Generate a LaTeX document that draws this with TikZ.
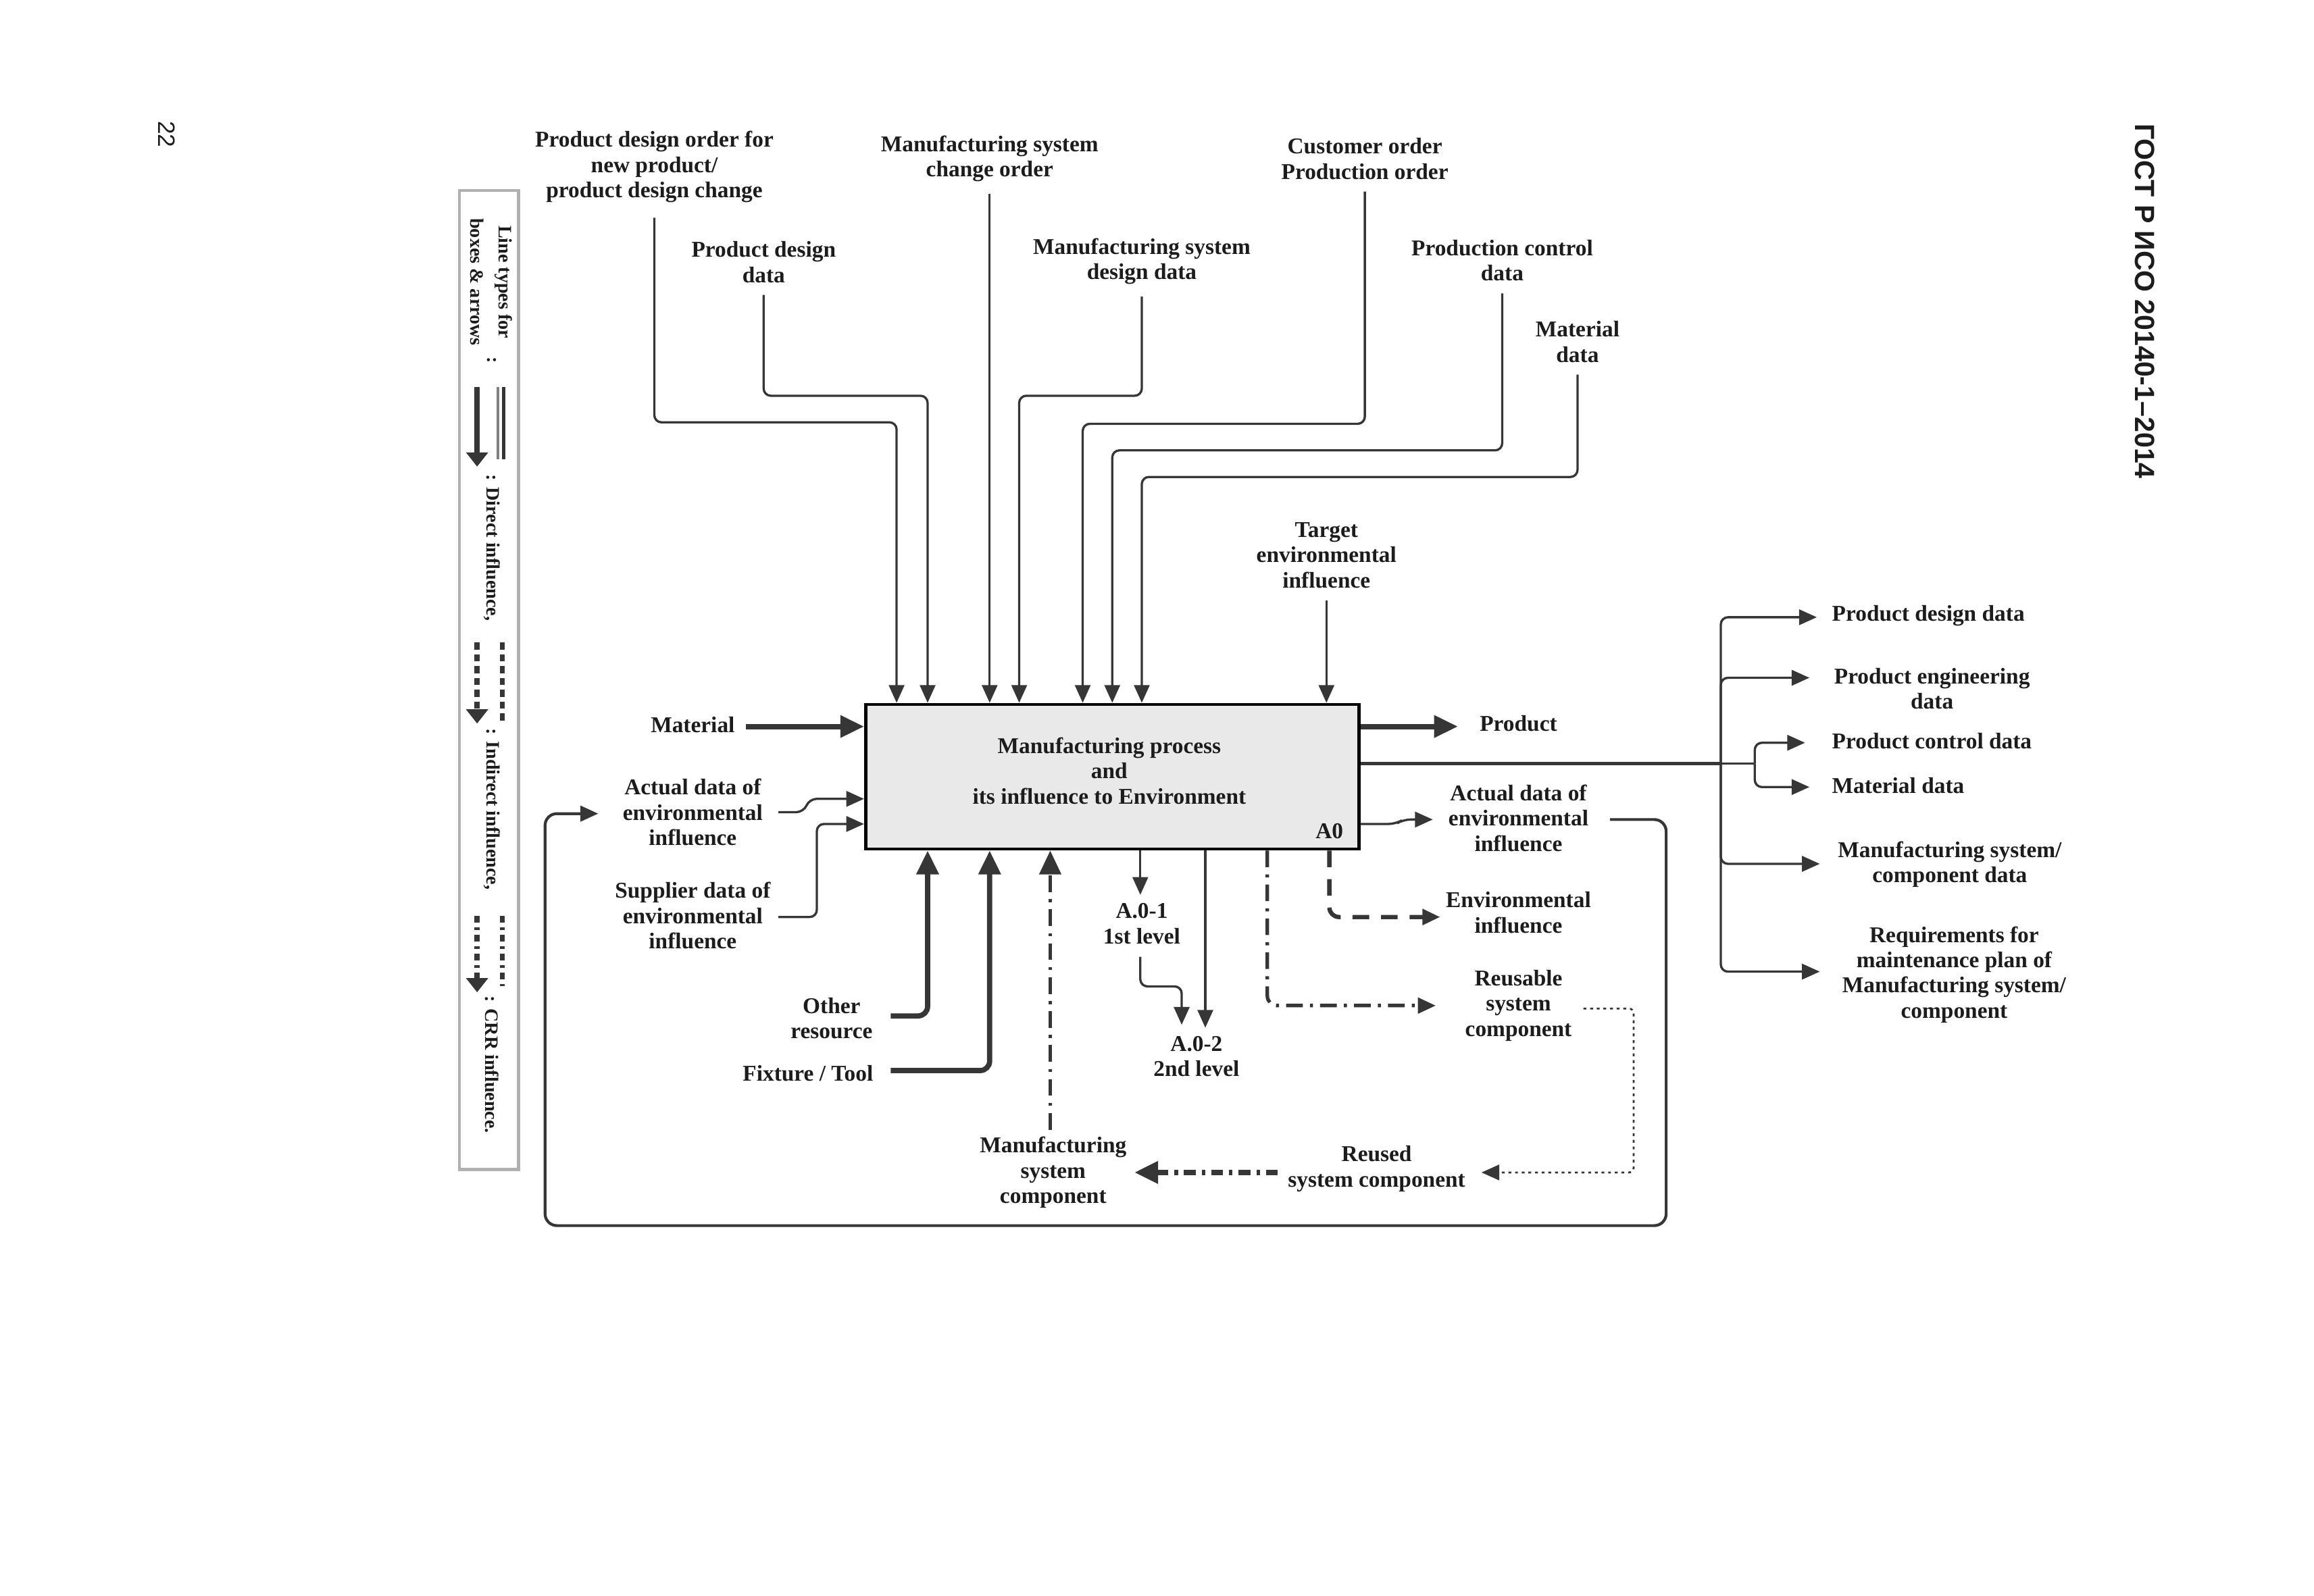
\documentclass[tikz,border=0pt]{standalone}
\usepackage{fontspec}
\setmainfont{Liberation Serif}
\newfontfamily\hdrfont{Liberation Sans}
\usetikzlibrary{arrows.meta}
\definecolor{lin}{HTML}{363636}
\definecolor{txt}{HTML}{1C1C1C}
\definecolor{boxfill}{HTML}{E9E9E9}
\definecolor{leggray}{HTML}{B0B0B0}
\newcommand\diaglabelfont{\fontsize{9.5}{10.6}\selectfont\bfseries}
\newcommand\diaglegfont{\fontsize{8}{9.6}\selectfont\bfseries}
\tikzset{
  lbl/.style={font=\diaglabelfont, align=center, inner sep=0pt, text=txt},
  leglbl/.style={font=\diaglegfont, align=center, inner sep=0pt, text=txt, rotate=-90},
  ln/.style={draw=lin, line width=0.95pt, rounded corners=3pt},
  thk/.style={draw=lin, line width=2.2pt, rounded corners=4pt},
  tipS/.style={-{Triangle[length=7.5pt,width=6.5pt]}},
  tipL/.style={-{Triangle[length=10pt,width=9pt]}},
  dashln/.style={draw=lin, line width=1.8pt, dash pattern=on 7pt off 5pt, rounded corners=4pt},
  ddotln/.style={draw=lin, line width=1.5pt, dash pattern=on 7pt off 3pt on 1.3pt off 3pt, rounded corners=4pt},
  dotln/.style={draw=lin, line width=0.8pt, dash pattern=on 1.2pt off 1.6pt, rounded corners=2pt},
}
\begin{document}
\begin{tikzpicture}[x=0.021863cm,y=-0.021863cm]
\useasboundingbox[fill=white] (0,0) rectangle (1566.6,1080.4);

% page header
\node[font=\hdrfont\fontsize{11.7}{14}\selectfont\bfseries, rotate=-90, inner sep=0pt, text=txt] (hdr) at (1452,204) {ГОСТ Р ИСО 20140-1–2014};
\node[font=\hdrfont\fontsize{10}{12}\selectfont, rotate=-90, inner sep=0pt, text=txt] (pg) at (113,91) {22};

% legend
\node[draw=leggray, line width=1.2pt, minimum width=0.875cm, minimum height=14.495cm, inner sep=0pt] (leg) at (331,460.5) {};
\node[leglbl] (lg1) at (341,191) {Line types for};
\node[leglbl] (lg2) at (323,191) {boxes \& arrows};
\node[leglbl] (lgc) at (333,244) {:};
\coordinate (la1) at (323,262); \coordinate (la2) at (323,316);
\draw[draw=lin, line width=2.2pt, -{Triangle[length=6pt,width=9pt]}] (la1) -- (la2);
\draw[draw=gray, line width=1pt] (337,262) -- (337,311);
\draw[draw=lin, line width=1.6pt] (341,262) -- (341,311);
\node[leglbl] (lg3) at (333,371) {: Direct influence,};
\draw[draw=lin, line width=2.2pt, dash pattern=on 3pt off 2pt, -{Triangle[length=6pt,width=9pt]}] (323,435) -- (323,490);
\draw[draw=lin, line width=1.8pt, dash pattern=on 3pt off 2pt] (340,435) -- (340,490);
\node[leglbl] (lg4) at (333,548) {: Indirect influence,};
\draw[draw=lin, line width=2.2pt, dash pattern=on 3pt off 2pt on 1pt off 2pt, -{Triangle[length=6pt,width=9pt]}] (323,620) -- (323,672);
\draw[draw=lin, line width=1.8pt, dash pattern=on 3pt off 2pt on 1pt off 2pt] (340,620) -- (340,668);
\node[leglbl] (lg5) at (333,721) {: CRR influence.};

% main box
\node[draw=black, line width=1.3pt, fill=boxfill, minimum width=7.302cm, minimum height=2.142cm, inner sep=0pt] (box) at (753,526) {};
\node[lbl] (boxtxt) at (751,522) {Manufacturing process\\and\\its influence to Environment};
\node[lbl] (a0) at (900,563) {A0};

% top labels
\node[lbl] (t1) at (443,113) {Product design order for\\new product/\\product design change};
\node[lbl] (t2) at (517,177.5) {Product design\\data};
\node[lbl] (t3) at (670,107.5) {Manufacturing system\\change order};
\node[lbl] (t4) at (773,177) {Manufacturing system\\design data};
\node[lbl] (t5) at (924,107.5) {Customer order\\Production order};
\node[lbl] (t6) at (1017,176.5) {Production control\\data};
\node[lbl] (t7) at (1068,231.5) {Material\\data};
\node[lbl] (t8) at (898,376) {Target\\environmental\\influence};

\coordinate (b1) at (607,286);
\coordinate (b2) at (628,268);
\coordinate (b3) at (670,268);
\coordinate (b4) at (690,268);
\coordinate (b5) at (733,287);
\coordinate (b6) at (753,305);
\coordinate (b7) at (773,323);

\draw[ln,tipS] (t1.south) ++(0,10) |- (b1) -- (b1 |- box.north);
\draw[ln,tipS] (t2.south) ++(0,8) |- (b2) -- (b2 |- box.north);
\draw[ln,tipS] (t3.south) ++(0,8) -- (b3) -- (b3 |- box.north);
\draw[ln,tipS] (t4.south) ++(0,8) |- (b4) -- (b4 |- box.north);
\draw[ln,tipS] (t5.south) ++(0,8) |- (b5) -- (b5 |- box.north);
\draw[ln,tipS] (t6.south) ++(0,8) |- (b6) -- (b6 |- box.north);
\draw[ln,tipS] (t7.south) ++(0,8) |- (b7) -- (b7 |- box.north);
\draw[ln,tipS] (t8.south) ++(0,8) -- (t8.south |- box.north);

% left inputs
\node[lbl] (lm) at (469,491) {Material};
\node[lbl] (la) at (469,550) {Actual data of\\environmental\\influence};
\node[lbl] (ls) at (469,620) {Supplier data of\\environmental\\influence};
\coordinate (m1) at (505,492);
\draw[thk,tipL] (m1) -- (m1 -| box.west);
\coordinate (ia1) at (527,550); \coordinate (ia2) at (544,550); \coordinate (ia3) at (548,541);
\draw[ln,tipS] (ia1) -- (ia2) -- (ia3) -- (ia3 -| box.west);
\coordinate (is1) at (527,621); \coordinate (is2) at (553,558);
\draw[ln,tipS] (is1) -| (is2) -- (is2 -| box.west);

% mechanisms
\node[lbl] (lo) at (563,689.5) {Other\\resource};
\node[lbl] (lf) at (547,727) {Fixture / Tool};
\node[lbl] (msc) at (713,794) {Manufacturing\\system\\component};
\node[lbl] (rsc) at (932,791.5) {Reused\\system component};
\coordinate (o1) at (603,688); \coordinate (o2) at (628,688);
\draw[thk,tipL] (o1) -- (o2) -- (o2 |- box.south);
\coordinate (f1) at (603,725); \coordinate (f2) at (670,725);
\draw[thk,tipL] (f1) -- (f2) -- (f2 |- box.south);
\coordinate (ms1) at (711,765);
\draw[ddotln,tipL] (ms1) -- (ms1 |- box.south);
\coordinate (rs1) at (865,794); \coordinate (rs2) at (768,794);
\draw[draw=lin, line width=2.4pt, dash pattern=on 5pt off 2.5pt on 1.5pt off 2.5pt, tipL] (rs1) -- (rs2);

% outputs right / bottom
\node[lbl] (op) at (1028,490) {Product};
\node[lbl] (ra) at (1028,554) {Actual data of\\environmental\\influence};
\node[lbl] (re) at (1028,618) {Environmental\\influence};
\node[lbl] (rr) at (1028,681) {Reusable\\system\\component};
\node[lbl] (l1) at (773,625.5) {A.0-1\\1st level};
\node[lbl] (l2) at (810,715.5) {A.0-2\\2nd level};

\coordinate (p2) at (987,492);
\draw[thk,tipL] (p2 -| box.east) -- (p2);
\coordinate (ra1) at (945,558); \coordinate (ra2) at (950,555); \coordinate (ra3) at (970,555);
\draw[ln,tipS] (ra1 -| box.east) -- (ra1) -- (ra2) -- (ra3);

% feedback loop
\coordinate (fb1) at (1090,555); \coordinate (fb2) at (1128,830); \coordinate (fb3) at (369,551); \coordinate (fb4) at (405,551);
\draw[draw=lin, line width=1.2pt, rounded corners=5pt, tipS] (fb1) -| (fb2) -| (fb3) -- (fb4);

% bottom outputs
\coordinate (q1) at (772,606);
\draw[ln,tipS] (q1 |- box.south) -- (q1);
\coordinate (q2) at (772,648); \coordinate (q3) at (800,668); \coordinate (q4) at (800,694);
\draw[ln,tipS] (q2) |- (q3) -- (q4);
\coordinate (q5) at (816,696);
\draw[ln,tipS] (q5 |- box.south) -- (q5);
\coordinate (e1) at (900,621); \coordinate (e2) at (975,621);
\draw[dashln,tipS] (e1 |- box.south) -- (e1) -- (e2);
\coordinate (u1) at (858,681); \coordinate (u2) at (972,681);
\draw[ddotln,tipS] (u1 |- box.south) -- (u1) -- (u2);
\coordinate (d1) at (1072,683); \coordinate (d2) at (1106,794); \coordinate (d3) at (1003,794);
\draw[dotln,tipS] (d1) -| (d2) -- (d3);

% bus to right outputs
\coordinate (bus) at (1165,517);
\coordinate (sub) at (1188,517);
\draw[draw=lin, line width=1.5pt] (bus -| box.east) -- (bus);
\node[lbl, anchor=west] (o1l) at (1240,417) {Product design data};
\node[lbl] (o2l) at (1308,466.5) {Product engineering\\data};
\node[lbl, anchor=west] (o3l) at (1240,502) {Product control data};
\node[lbl, anchor=west] (o4l) at (1240,532) {Material data};
\node[lbl] (o5l) at (1320,585.5) {Manufacturing system/\\component data};
\node[lbl] (o6l) at (1323,660) {Requirements for\\maintenance plan of\\Manufacturing system/\\component};
\coordinate (w1) at (1230,418);
\coordinate (w2) at (1225,459);
\coordinate (w3) at (1222,503);
\coordinate (w4) at (1225,533);
\coordinate (w5) at (1232,585);
\coordinate (w6) at (1232,658);
\draw[ln,tipS] (bus) |- (w1);
\draw[ln,tipS] (bus) |- (w2);
\draw[ln,tipS] (bus) |- (w5);
\draw[ln,tipS] (bus) |- (w6);
\draw[ln] (bus) -- (sub);
\draw[ln,tipS] (sub) |- (w3);
\draw[ln,tipS] (sub) |- (w4);
\end{tikzpicture}
\end{document}
